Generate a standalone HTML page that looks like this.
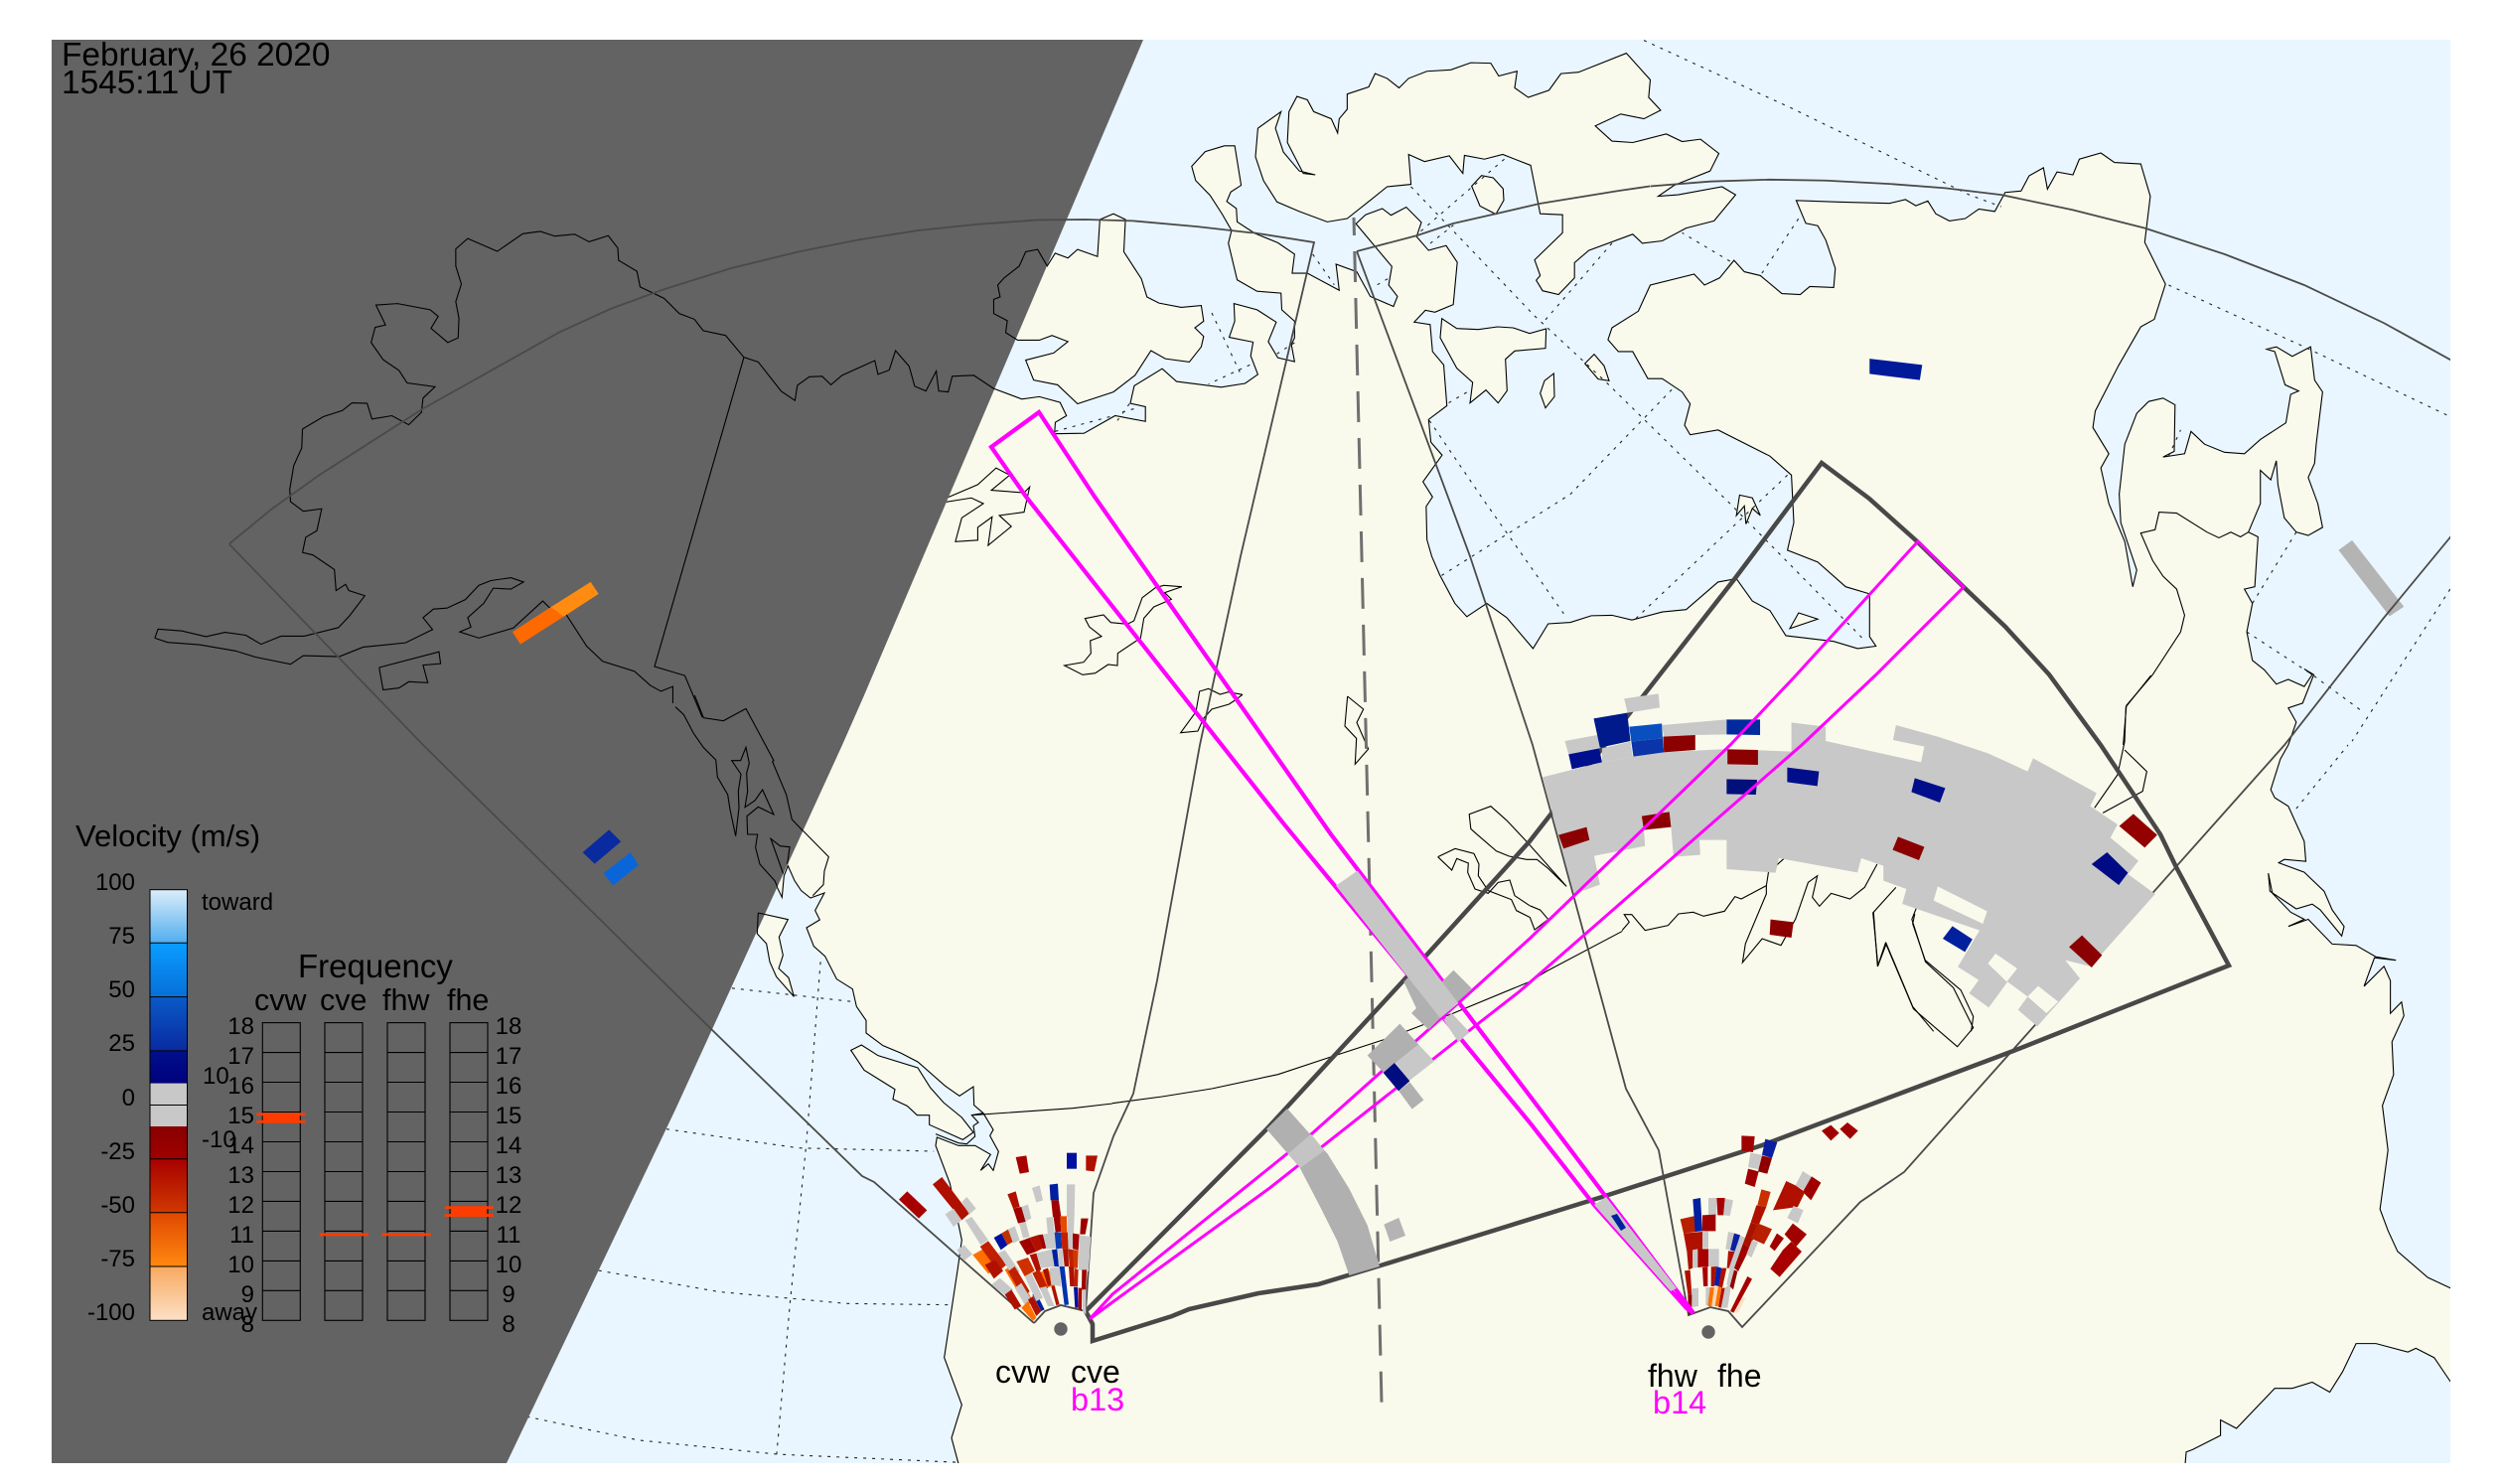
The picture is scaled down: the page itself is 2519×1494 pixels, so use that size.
<!DOCTYPE html>
<html><head><meta charset="utf-8"><title>SuperDARN velocity map</title>
<style>
html,body{margin:0;padding:0;background:#fff}
svg{display:block}
polygon,polyline,path,line{vector-effect:non-scaling-stroke}
.c polygon,.c polyline{stroke:#000;stroke-width:1.1;stroke-linejoin:miter}
.c polyline{fill:none}
.oc{fill:#e9f6ff}
.ld{fill:#f9faeb}
.g polyline{fill:none;stroke:#222;stroke-width:1.1;stroke-dasharray:3 6}
.t{font-family:"Liberation Sans",sans-serif;fill:#000}
.tk{font-size:24px}
.fq{font-size:24px}
.e{text-anchor:end}
.m{text-anchor:middle}
</style></head><body>
<svg width="2519" height="1494" viewBox="0 0 2519 1494" xmlns="http://www.w3.org/2000/svg">
<defs>
<clipPath id="plot"><rect x="52" y="40" width="2415" height="1433"/></clipPath>
<clipPath id="night"><polygon points="52,40 1151,40 870,700 848,750 680,1117 510,1473 52,1473"/></clipPath>
<linearGradient id="cb" x1="0" y1="0" x2="0" y2="1">
<stop offset="0" stop-color="#dcedfa"/><stop offset=".124" stop-color="#50aeee"/>
<stop offset=".125" stop-color="#0a9cff"/><stop offset=".249" stop-color="#0670d8"/>
<stop offset=".25" stop-color="#0a5ac8"/><stop offset=".374" stop-color="#0a2aa0"/>
<stop offset=".375" stop-color="#00108c"/><stop offset=".449" stop-color="#00007c"/>
<stop offset=".45" stop-color="#c8c8c8"/><stop offset=".549" stop-color="#c8c8c8"/>
<stop offset=".55" stop-color="#880000"/><stop offset=".624" stop-color="#a00000"/>
<stop offset=".625" stop-color="#a80000"/><stop offset=".749" stop-color="#d03800"/>
<stop offset=".75" stop-color="#e04800"/><stop offset=".874" stop-color="#ff8810"/>
<stop offset=".875" stop-color="#f8a860"/><stop offset="1" stop-color="#fde0c6"/>
</linearGradient>
</defs>
<rect width="2519" height="1494" fill="#fff"/>
<g clip-path="url(#plot)">
<rect x="52" y="40" width="2415" height="1433" fill="#f9faeb"/>
<!-- oceans and land -->
<g class="c">
<g transform="translate(1260,0) scale(0.80295,0.4783)">
<polygon class="oc" points="-348,790 -323,818 -288,840 -266,835 -240,847 -232,875 -246,889 -247,913 -210,912 -171,875 -133,887 -133,856 -152,849 -147,812 -112,776 -94,803 -38,815 -8,807 8,788 -1,749 2,720 -28,710 -21,676 -22,639 7,652 31,678 21,719 33,753 54,761 50,725 54,711 54,676 38,652 37,617 7,613 -18,589 -29,512 -25,485 -37,450 -52,411 -70,380 -75,350 -58,319 -34,307 -21,307 -13,390 -26,404 -31,424 -19,439 -18,467 4,491 33,511 54,535 51,575 70,575 110,611 106,556 132,572 149,624 178,645 183,624 172,600 176,561 131,471 143,452 164,439 175,453 194,436 213,468 207,498 222,527 244,517 258,552 253,641 230,657 218,653 204,678 224,683 227,740 241,768 245,854 222,883 225,931 239,958 215,1014 227,1046 219,1066 220,1136 226,1171 236,1210 255,1270 270,1298 295,1270 320,1300 353,1365 372,1313 400,1310 426,1296 452,1295 477,1305 515,1288 545,1283 585,1225 608,1218 628,1265 650,1285 670,1338 730,1350 760,1365 783,1360 775,1340 775,1250 745,1235 710,1183 672,1158 680,1100 677,1000 650,960 585,905 550,915 543,895 550,850 540,825 515,797 497,797 478,740 460,740 447,715 452,690 485,655 500,600 555,577 568,600 587,585 605,548 618,572 638,580 665,618 688,620 700,603 730,605 732,565 720,505 710,475 695,470 683,422 735,425 800,428 820,420 833,433 848,423 858,450 875,465 895,460 912,440 932,445 945,405 965,402 975,370 993,353 998,398 1010,362 1030,368 1038,335 1065,322 1082,342 1115,345 1127,413 1120,510 1146,598 1132,672 1115,688 1087,770 1058,865 1055,900 1075,955 1065,985 1075,1060 1095,1140 1105,1235 1110,1200 1090,1100 1088,1040 1095,935 1110,870 1125,845 1143,838 1158,852 1157,950 1143,962 1170,955 1178,908 1195,935 1220,952 1245,955 1265,925 1297,890 1303,830 1313,823 1296,810 1283,740 1273,735 1285,730 1305,750 1328,730 1333,800 1343,825 1335,935 1333,975 1325,1005 1337,1060 1343,1110 1325,1127 1310,1120 1295,1090 1287,1020 1285,970 1278,1010 1265,990 1265,1060 1250,1120 1262,1130 1258,1235 1245,1240 1255,1270 1248,1330 1255,1390 1270,1410 1285,1440 1300,1430 1320,1445 1330,1420 1320,1408 1332,1420 1318,1480 1300,1490 1310,1520 1300,1568 1290,1598 1278,1662 1283,1679 1300,1697 1320,1771 1322,1813 1295,1809 1288,1816 1320,1836 1345,1876 1355,1915 1370,1950 1367,1970 1340,1915 1330,1903 1310,1913 1277,1876 1275,1838 1280,1880 1303,1920 1320,1935 1300,1950 1325,1935 1355,1987 1385,1990 1410,2014 1435,2021 1408,2016 1395,2076 1420,2034 1428,2064 1428,2133 1442,2109 1445,2138 1430,2193 1432,2262 1418,2327 1425,2421 1415,2545 1425,2590 1437,2634 1475,2689 1503,2711 1560,2760 1560,-60 -348,-60"/>
<polygon class="ld" points="37,235 8,270 5,330 15,380 32,425 60,445 95,467 120,460 150,420 170,393 200,388 197,325 217,340 248,328 265,365 267,327 292,335 315,325 350,348 362,450 390,452 390,490 355,547 362,580 357,590 365,612 385,620 405,585 405,553 423,527 478,493 490,512 515,507 545,480 580,465 607,410 590,393 535,410 510,413 530,390 575,360 586,323 563,293 540,298 520,282 478,300 452,297 431,265 463,240 492,250 513,232 498,205 500,168 470,112 410,152 388,155 373,190 347,205 330,185 333,150 310,160 300,133 275,132 250,147 220,150 197,165 185,185 170,165 155,155 147,183 120,198 120,230 110,250 108,280 100,250 78,235 70,210 57,203 47,235 45,300 65,365 80,368 60,360 40,320 30,270"/>
<polygon class="ld" points="612,1042 628,1048 638,1085 628,1070 620,1103 618,1065 608,1085"/>
<polygon class="ld" points="686,1290 710,1303 675,1323"/>
</g>
<g transform="translate(1130,130) scale(.33333)">
<polygon class="ld" points="1085,140 1055,172 1080,232 1128,257 1152,215 1150,180 1120,147"/>
<polygon class="ld" points="965,572 1010,602 1075,605 1133,597 1180,600 1230,617 1280,603 1278,662 1185,670 1157,695 1162,790 1135,827 1098,788 1050,827 1058,765 1010,722 960,630"/>
<polygon class="ld" points="1425,680 1397,708 1437,755 1470,760 1455,715"/>
<polygon class="ld" points="1303,738 1275,760 1262,798 1278,842 1305,808"/>
</g>
<polygon class="ld" transform="scale(0.8036,0.4783)" points="1312,560 1300,525 1285,530 1277,560 1258,585 1250,600 1253,625 1245,630 1245,660 1262,675 1260,700 1275,716 1302,716 1318,706 1338,719 1320,743 1285,758 1295,800 1325,810 1350,850 1395,825 1422,790 1442,738 1460,755 1490,762 1505,730 1508,708 1497,690 1508,676 1505,643 1480,647 1452,638 1437,625 1430,587 1408,530 1410,462 1395,450 1378,462 1375,540 1350,525 1338,543 1322,533"/>
<!-- Gulf -->
<polygon class="oc" transform="translate(1260,750) scale(0.80295,0.4745)" points="1170,1540 1172,1500 1180,1495 1215,1465 1215,1432 1235,1450 1283,1365 1305,1365 1330,1352 1352,1373 1368,1330 1385,1270 1410,1270 1450,1288 1460,1280 1483,1300 1503,1350 1560,1440 1560,1600 1170,1600"/>
<!-- Pacific -->
<g transform="translate(680,700) scale(.33333)">
<polygon class="oc" points="322,610 328,545 340,515 360,560 380,590 408,612 450,597 422,650 436,678 396,702 418,758 452,788 487,857 535,887 547,940 576,982 576,1020 627,1058 680,1080 732,1107 815,1180 858,1210 900,1182 902,1238 930,1262 960,1312 950,1330 976,1378 960,1435 945,1415 922,1435 952,1387 905,1360 855,1360 790,1335 786,1360 829,1474 865,1645 853,1730 812,2000 865,2143 834,2243 860,2340 -1000,2340 -1000,600 300,565"/>
<polygon class="ld" points="250,657 340,677 313,730 325,785 312,825 342,853 358,910 305,850 285,805 275,750 247,720"/>
<polygon class="ld" points="530,1072 562,1056 612,1088 732,1125 770,1185 810,1230 865,1275 900,1320 868,1342 767,1297 767,1268 730,1268 700,1240 657,1220 663,1190 570,1132"/>
<polyline points="786,1325 855,1352 880,1355 905,1332 900,1300 915,1290 895,1268 930,1262"/>
<polyline points="352,375 463,488 450,530 447,572 415,605"/>
<polyline points="895,1268 1200,1247 1320,1233"/>
</g>
<!-- inland lines -->
<polyline transform="scale(0.8036,0.4783)" points="1165,1062 1190,1045 1225,1020 1248,985 1265,1000 1242,1032 1283,1037 1290,1025 1283,1078 1252,1085 1267,1108 1238,1148 1243,1088 1225,1110 1225,1137 1197,1140 1205,1090 1232,1060 1217,1048 1165,1062"/>
<g transform="translate(950,500) scale(.33333)">
<polyline points="720,272 665,268 640,275 600,305 575,375 555,385 505,380 483,357 427,368 440,393 477,422 443,435 445,473 423,500 365,510 420,538 458,533 497,507 525,510 526,473 595,427 605,367 635,333 688,310 668,290 720,272"/>
<polyline points="903,598 860,590 835,597 800,580 773,588 762,650 716,713 768,708 785,670 810,642 862,627 880,615 903,598"/>
<polyline points="1220,603 1268,642 1248,682 1283,762 1243,808 1247,730 1212,693 1220,603"/>
</g>
<g transform="translate(1120,840) scale(.33333)">
<polyline points="983,68 1035,43 1092,58 1107,90 1105,125 1135,170 1205,197 1220,230 1260,250"/>
<polyline points="983,68 1025,108 1040,73 1075,87 1073,115 1095,165 1135,178 1165,145 1200,138 1215,185 1260,215"/>
<polyline points="0,812 150,792 300,768 500,725 660,672 820,620 900,590 1030,540 1260,445"/>
</g>
<g transform="translate(1260,750) scale(0.80295,0.4745)">
<polyline points="395,300 345,205 320,160 300,130 273,147 275,178 283,190 307,225 323,236 345,243 358,243 372,262 395,300"/>
<polyline points="349,365 355,392 372,370 362,350 349,341"/>
<polyline points="349,502 370,480 465,395"/>
<polyline points="780,355 785,470 795,420 830,560 885,640 905,600 880,515 845,460 828,370 835,340"/>
</g>
<polyline transform="translate(1260,0) scale(0.80295,0.4783)" points="1250,1120 1240,1130 1228,1120 1213,1132 1198,1120 1160,1080 1138,1078 1133,1115 1115,1122 1130,1180 1143,1213 1160,1240 1170,1295 1165,1330 1130,1420 1097,1485 1093,1568"/>
<g transform="translate(1530,680) scale(0.42092,0.33333)">
<polyline points="1510,0 1450,95 1447,200 1430,300 1375,400"/>
<polyline points="1447,225 1500,290 1490,350 1395,415"/>
<polyline points="245,770 262,745 250,722 268,722 300,770 355,755 380,720 415,715 440,727 490,712 515,668 530,675 590,635 595,595 635,550"/>
<polyline points="590,635 590,660 540,810 533,867 580,795 625,815 660,735 690,625 712,605 700,670 717,697 745,658 790,675 825,640 855,570"/>
<polyline points="900,640 845,717 857,877 877,810 940,1000 990,1075"/>
<polyline points="945,720 940,750 970,860 1055,950 1085,1030 1080,1075"/>
<polyline points="1110,700 1115,720"/>
<polyline points="1295,850 1330,830 1305,872 1335,850"/>
</g>
</g>
<!-- dotted grid -->
<g class="g">
<g transform="translate(1260,0) scale(0.80295,0.4783)">
<polyline points="492,85 680,230 900,410 940,435"/>
<polyline points="1150,600 1320,730 1503,877"/>
<polyline points="200,393 355,665 445,805 600,1060 770,1350"/>
<polyline points="317,335 210,490"/>
<polyline points="640,575 690,450"/>
<polyline points="600,550 540,490"/>
<polyline points="452,512 365,680"/>
<polyline points="527,820 400,1040 235,1215"/>
<polyline points="223,885 290,1050 395,1300"/>
<polyline points="672,1000 480,1305"/>
<polyline points="1310,1120 1255,1270"/>
<polyline points="1248,1330 1330,1420 1395,1500"/>
<polyline points="1503,1240 1380,1560"/>
<polyline points="1150,960 1165,905"/>
</g>
<g transform="translate(1130,130) scale(.33333)">
<polyline points="270,555 360,745"/>
<polyline points="385,712 260,770"/>
<polyline points="575,378 640,470"/>
<polyline points="0,855 50,840"/>
<polyline points="1040,795 980,830"/>
<polyline points="770,470 805,450"/>
<polyline points="930,345 1000,290"/>
<polyline points="520,645 465,680"/>
</g>
<g transform="scale(0.8036,0.4783)">
<polyline points="1322,908 1395,875"/>
<polyline points="1415,850 1400,885"/>
</g>
<polyline transform="translate(1260,750) scale(0.80295,0.4745)" points="1310,135 1375,0"/>
<g transform="translate(0,750) scale(0.8036,0.4745)">
<polyline points="917,516 1070,545"/>
<polyline points="835,815 1000,855 1170,862"/>
<polyline points="750,1115 900,1160 1060,1185 1195,1188"/>
<polyline points="660,1425 800,1475 975,1505 1200,1522"/>
<polyline points="1028,460 1010,850 990,1180 973,1505"/>
</g>
</g>
<!-- night -->
<polygon points="52,40 1151,40 870,700 848,750 680,1117 510,1473 52,1473" fill="#636363"/>
<g clip-path="url(#night)"><g class="c">
<g transform="scale(0.8036,0.4783)">
<polyline points="194,1343 198,1324 228,1328 258,1340 282,1331 308,1337 327,1356 352,1339 381,1339 424,1321 438,1296 457,1254 437,1243 433,1230 421,1243 419,1199 392,1168 379,1163 383,1131 397,1117 403,1071 380,1076 364,1056 363,1030 368,980 378,943 379,903 405,877 429,864 441,848 460,849 466,882 491,875 512,894 528,868 530,838 545,814 510,806 500,780 480,757 465,721 470,689 483,684 471,642 498,639 539,652 549,666 540,691 561,721 574,711 575,670 571,635 578,598 571,560 571,524 586,502 623,529 655,492 677,487 695,497 720,493 738,509 762,496 774,522 775,548 798,571 802,604 832,628 851,660 870,672 881,696 909,706 932,752 950,762 979,824 996,843 999,811 1014,793 1030,792 1041,810 1055,790 1096,759 1100,788 1114,779 1122,738 1139,771 1146,813 1160,823 1173,781 1176,823 1188,825 1193,792 1220,790 1245,818 1280,840 1302,835"/>
<polyline points="194,1343 210,1352 250,1357 295,1370 320,1383 364,1398 380,1380 425,1382 455,1362 508,1353 542,1325 530,1300 543,1282 560,1280 583,1262 600,1232 615,1222 640,1216 656,1225 640,1240 618,1238 606,1270 586,1300 590,1320 576,1330 600,1343 643,1322 680,1265 692,1285 708,1290 735,1360 755,1392 795,1413 815,1443 828,1455 843,1445 843,1480"/>
<polyline points="932,752 820,1403 858,1422 880,1510"/>
<polyline points="475,1405 550,1372 552,1397 530,1400 536,1437 512,1435 500,1448 480,1452 475,1405"/>
<polyline points="1312,560 1300,525 1285,530 1277,560 1258,585 1250,600 1253,625 1245,630 1245,660 1262,675 1260,700 1275,716 1302,716 1318,706"/>
</g>
<g transform="translate(680,700) scale(.33333)">
<polyline points="0,35 25,58 55,115 85,158 122,195 127,247 158,300 165,345 182,425 192,340 190,290 198,238 170,197 197,197 213,157 223,205 215,235 218,290 210,338 240,318 263,285 297,360 250,337 216,365 218,420 248,420 242,460 255,510 300,560 322,610 328,545 288,433 316,455 345,458 338,510"/>
<polyline points="58,0 85,68 145,77 213,40 297,197 293,200 335,300 352,375 400,425"/>
<polyline points="250,657 340,677"/>
<polyline points="250,657 247,720 275,750"/>
</g>
</g></g>
<!-- far echoes -->
<polygon transform="scale(0.8036,0.4783)" fill="#ff6a00" points="642,1330 690,1278 706,1298 652,1356"/>
<polygon transform="scale(0.8036,0.4783)" fill="#ff8c10" points="690,1278 740,1225 750,1250 706,1298"/>
<g transform="translate(0,750) scale(0.8036,0.4745)">
<polygon fill="#0a2aa0" points="730,228 763,180 778,205 745,252"/>
<polygon fill="#0a66d8" points="756,272 790,228 800,255 768,298"/>
</g>
<g transform="translate(1260,0) scale(0.80295,0.4783)">
<polygon fill="#001a99" points="775,755 841,768 838,800 775,787"/>
<polygon fill="#b4b4b4" points="1363,1158 1380,1137 1445,1277 1427,1297"/>
</g>
<!-- dashed meridian -->
<line x1="1363" y1="219" x2="1391" y2="1413" stroke="#707070" stroke-width="3" stroke-dasharray="31 16" stroke-dashoffset="13" fill="none"/>
<!-- FOVs -->
<g fill="none" stroke="#4a4a4a" stroke-width="1.8">
<polyline points="1041,1332 880,1190 868,1184 715,1035 426,750 231,548"/>
<polyline transform="scale(0.8036,0.4783)" points="287,1145 340,1072 400,1000 465,930 530,860 610,785 700,700 765,650 830,610 915,565 1000,530 1075,505 1150,485 1225,472 1300,463 1360,462 1420,465 1500,477 1568,490"/>
<polyline points="1260,234 1323,244 1249,560 1208,750 1165,987 1141,1101 1121,1144 1101,1201 1093,1320 1068,1314 1052,1320 1041,1332"/>
<polyline points="1366,253 1427,237 1463,225 1507,215 1550,205 1630,192 1661,187.5"/>
<polyline transform="translate(1260,0) scale(0.80295,0.4783)" points="500,392 575,382 650,378 720,380 800,387 870,396 940,410 1030,442 1120,480 1220,535 1320,600 1420,680 1503,757 1560,810"/>
<polyline points="1366,253 1480,560 1543,750 1637,1096 1670,1158 1700,1324 1722,1316 1740,1320 1754,1336 1873,1210 1917,1180 2300,750 2400,622 2480,525"/>
</g>
<polyline fill="none" stroke="#484848" stroke-width="4.5" stroke-linejoin="miter" points="1093,1320 1100,1333 1100,1350 1180,1325 1197,1318 1267,1302 1327,1293 1390,1274 1613,1205 1774,1153 2027,1058 2244,972 2191,873 2175,840 2115,750 2063,679 2019,631 1977,591 1930,545 1882,502 1834,466 1747,582 1540,847 1415,985 1275,1137 1093,1320"/>
<!-- big fan -->
<g transform="translate(1530,680) scale(0.42092,0.33333)">
<polygon fill="#c8c8c8" points="55,307 197,262 270,245 345,232 495,222 650,230 650,142 732,155 732,198 960,262 968,215 893,195 900,150 1000,185 1120,235 1215,290 1228,250 1380,355 1365,395 1430,450 1413,490 1480,560 1455,600 1520,660 1238,1060 1192,1010 1215,970 1167,925 1122,1003 1075,960 1098,920 1048,880 1100,770 915,690 925,645 870,620 870,575 817,552 808,595 620,552 612,596 495,585 495,497 430,497 432,542 368,548 362,458 297,468 300,515 178,545 192,632 130,660"/>
<polygon fill="#f9faeb" points="1000,637 1118,712 1108,750 990,680"/>
<polygon fill="#f9faeb" points="1138,840 1190,885 1165,925 1120,870"/>
<polygon fill="#f9faeb" points="1240,938 1288,985 1260,1020 1215,970"/>
<polygon fill="#f9faeb" points="1305,860 1370,880 1340,915"/>
<polygon fill="#c8c8c8" points="250,70 332,55 335,97 258,113"/>
<polygon fill="#c8c8c8" points="340,150 495,133 495,178 420,180 345,185"/>
<polygon fill="#c8c8c8" points="108,198 185,180 195,218 117,238"/>
<polygon fill="#c8c8c8" points="197,220 265,200 270,245 197,262"/>
<polygon fill="#001a8c" points="177,130 257,113 265,198 192,218"/>
<polygon fill="#0a4fc0" points="262,155 340,145 342,190 267,200"/>
<polygon fill="#0a34a8" points="267,200 342,190 345,232 272,245"/>
<polygon fill="#000f8c" points="117,238 190,220 197,262 125,283"/>
<polygon fill="#8b0000" points="343,185 420,180 420,225 345,232"/>
<polygon fill="#002a9e" points="495,133 575,133 575,180 495,178"/>
<polygon fill="#8b0000" points="497,223 570,225 570,270 497,268"/>
<polygon fill="#00107a" points="495,313 568,315 565,360 495,358"/>
<polygon fill="#000e8c" points="640,278 716,290 712,334 640,322"/>
<polygon fill="#000e8c" points="945,310 1018,340 1005,384 937,352"/>
<polygon fill="#920000" points="1434,455 1468,418 1525,482 1495,520"/>
<polygon fill="#000a85" points="1368,570 1405,534 1455,596 1433,633"/>
<polygon fill="#00209e" points="1012,795 1035,757 1083,797 1065,835"/>
<polygon fill="#8b0000" points="1314,820 1345,785 1393,845 1368,882"/>
<polygon fill="#8b0000" points="892,527 905,487 968,518 955,558"/>
<polygon fill="#8b0000" points="292,425 358,412 362,458 297,466"/>
<polygon fill="#8b0000" points="93,482 160,458 167,497 105,523"/>
<polygon fill="#8b0000" points="600,737 655,745 650,792 598,783"/>
</g>
<!-- cvw/cve fan -->
<g transform="translate(880,1120) scale(.33333)">
<polygon fill="#a80000" points="75,263 100,238 160,295 135,320"/>
<polygon fill="#b01000" points="177,217 205,195 288,305 265,325"/>
<polygon fill="#c8c8c8" points="265,270 280,255 308,290 288,308"/>
<polygon fill="#c8c8c8" points="215,307 240,290 265,325 240,345"/>
<polygon fill="#c8c8c8" points="275,325 295,315 345,385 322,400"/>
<polygon fill="#c8c8c8" points="250,415 272,400 297,428 272,448"/>
<polygon fill="#ff7000" points="298,430 330,412 375,465 345,487"/>
<polygon fill="#c02000" points="320,405 345,388 400,460 375,480"/>
<polygon fill="#b01000" points="335,460 365,445 390,478 362,502"/>
<polygon fill="#ff6a00" points="395,475 420,460 480,570 460,585"/>
<polygon fill="#c8c8c8" points="375,425 395,415 440,480 420,495"/>
<polygon fill="#c8c8c8" points="355,520 380,500 420,535 400,555"/>
<polygon fill="#b01000" points="395,550 415,535 445,585 425,595"/>
<polygon fill="#c02000" points="405,480 425,465 470,540 450,560"/>
<polygon fill="#c8c8c8" points="425,530 445,515 475,565 455,580"/>
<polygon fill="#ff7000" points="445,590 465,570 490,620 480,630"/>
<polygon fill="#b01000" points="465,565 480,555 505,600 490,615"/>
<polygon fill="#0020a0" points="478,550 490,545 515,595 505,600"/>
<polygon fill="#0010a0" points="362,378 385,365 403,400 383,415"/>
<polygon fill="#c03000" points="385,365 405,353 420,390 403,400"/>
<polygon fill="#c8c8c8" points="405,353 425,343 440,385 420,395"/>
<polygon fill="#b01000" points="403,247 428,238 440,285 420,290"/>
<polygon fill="#a00000" points="420,290 445,285 458,330 435,335"/>
<polygon fill="#c8c8c8" points="445,285 465,278 475,320 458,328"/>
<polygon fill="#c8c8c8" points="438,335 458,330 470,375 450,380"/>
<polygon fill="#c8c8c8" points="477,228 500,220 510,265 490,272"/>
<polygon fill="#a80000" points="428,135 460,130 468,180 440,185"/>
<polygon fill="#0010a0" points="582,122 612,122 612,170 582,170"/>
<polygon fill="#b01000" points="640,130 675,130 665,178 640,175"/>
<polygon fill="#0020a0" points="530,218 555,215 558,265 533,265"/>
<polygon fill="#a00000" points="535,265 558,265 565,315 540,315"/>
<polygon fill="#c8c8c8" points="582,217 607,217 605,315 582,315"/>
<polygon fill="#a00000" points="542,315 562,313 565,360 548,362"/>
<polygon fill="#e84800" points="562,313 582,313 583,362 565,362"/>
<polygon fill="#c8c8c8" points="585,315 605,315 603,365 585,365"/>
<polygon fill="#c8c8c8" points="520,318 540,315 545,365 525,370"/>
<polygon fill="#a00000" points="625,320 647,320 638,368 622,368"/>
<polygon fill="#a00000" points="438,390 470,378 490,420 462,430"/>
<polygon fill="#b01000" points="470,378 495,370 510,410 490,420"/>
<polygon fill="#a00000" points="495,370 510,368 520,410 510,412"/>
<polygon fill="#c8c8c8" points="512,368 545,362 550,410 520,412"/>
<polygon fill="#0a3ab0" points="545,362 565,362 568,410 550,412"/>
<polygon fill="#c02000" points="565,362 585,362 587,412 568,412"/>
<polygon fill="#c8c8c8" points="585,365 600,365 600,412 588,412"/>
<polygon fill="#a00000" points="600,365 620,368 617,415 600,412"/>
<polygon fill="#c8c8c8" points="620,370 655,375 648,480 617,475"/>
<polygon fill="#c8c8c8" points="490,425 540,412 548,465 505,470"/>
<polygon fill="#0020a0" points="537,415 553,412 558,465 545,465"/>
<polygon fill="#c8c8c8" points="555,412 570,412 572,465 558,465"/>
<polygon fill="#a81000" points="570,412 587,412 588,465 575,465"/>
<polygon fill="#c02000" points="587,412 605,415 605,470 590,468"/>
<polygon fill="#d03800" points="600,415 617,415 615,470 603,470"/>
<polygon fill="#d03000" points="430,450 465,438 485,478 455,495"/>
<polygon fill="#b01000" points="470,430 490,425 505,475 490,480"/>
<polygon fill="#c8c8c8" points="455,495 475,485 510,560 490,570"/>
<polygon fill="#ff7000" points="490,490 525,470 550,520 520,530"/>
<polygon fill="#c02000" points="478,485 500,475 525,530 505,540"/>
<polygon fill="#a81000" points="510,475 525,470 535,520 525,525"/>
<polygon fill="#c8c8c8" points="500,530 520,525 545,585 525,585"/>
<polygon fill="#c8c8c8" points="530,470 560,465 565,525 535,520"/>
<polygon fill="#b01000" points="535,525 545,522 560,580 550,582"/>
<polygon fill="#0030b0" points="560,465 575,465 588,580 575,582"/>
<polygon fill="#b01000" points="588,465 603,468 605,525 592,525"/>
<polygon fill="#c02000" points="605,470 617,475 615,525 603,525"/>
<polygon fill="#0010a0" points="603,527 615,527 617,590 607,590"/>
<polygon fill="#a80000" points="617,530 628,530 627,600 617,592"/>
<polygon fill="#a00000" points="628,475 642,475 640,535 627,535"/>
<polygon fill="#c8c8c8" points="630,535 640,535 640,610 630,600"/>
</g>
<!-- fhw/fhe fan -->
<g transform="translate(1640,1120) scale(.33333)">
<polygon fill="#b82000" points="155,322 200,312 205,360 165,365"/>
<polygon fill="#0020a0" points="193,262 216,258 222,358 200,360"/>
<polygon fill="#c8c8c8" points="240,258 265,258 265,310 240,310"/>
<polygon fill="#a80000" points="265,258 290,258 288,310 268,310"/>
<polygon fill="#c8c8c8" points="290,260 315,265 305,312 285,310"/>
<polygon fill="#a00000" points="222,310 262,308 262,358 222,358"/>
<polygon fill="#b01000" points="165,365 222,360 222,412 175,420"/>
<polygon fill="#c8c8c8" points="222,360 240,358 240,410 222,410"/>
<polygon fill="#b01000" points="175,420 192,415 192,470 180,475"/>
<polygon fill="#c8c8c8" points="192,415 208,412 208,468 192,470"/>
<polygon fill="#a80000" points="208,412 240,412 240,465 208,468"/>
<polygon fill="#c8c8c8" points="240,412 272,412 272,465 240,465"/>
<polygon fill="#b01000" points="168,478 185,476 190,550 178,550"/>
<polygon fill="#a80000" points="222,468 238,465 238,525 225,525"/>
<polygon fill="#a81000" points="248,466 265,465 258,525 248,525"/>
<polygon fill="#0020b0" points="265,465 280,470 272,525 258,522"/>
<polygon fill="#b01000" points="280,470 295,470 282,530 270,525"/>
<polygon fill="#c8c8c8" points="188,532 210,530 210,585 192,588"/>
<polygon fill="#c8c8c8" points="232,528 245,528 240,582 232,582"/>
<polygon fill="#ff7000" points="245,528 258,528 250,585 238,585"/>
<polygon fill="#ffd8b0" points="258,525 270,525 262,585 250,585"/>
<polygon fill="#ff7000" points="270,525 280,530 270,585 260,585"/>
<polygon fill="#b01000" points="280,530 290,530 280,590 270,588"/>
<polygon fill="#c8c8c8" points="290,530 310,515 298,590 278,590"/>
<polygon fill="#900000" points="178,550 190,550 190,605 180,612"/>
<polygon fill="#c8c8c8" points="300,360 320,365 315,418 292,412"/>
<polygon fill="#0a1fa0" points="318,365 336,370 322,420 306,415"/>
<polygon fill="#b01000" points="300,418 320,420 310,470 296,470"/>
<polygon fill="#c8c8c8" points="336,372 356,380 318,475 302,470"/>
<polygon fill="#c8c8c8" points="305,470 325,478 310,525 295,520"/>
<polygon fill="#c83000" points="400,232 428,240 415,285 388,280"/>
<polygon fill="#b01000" points="385,280 415,285 392,340 368,332"/>
<polygon fill="#a81000" points="368,332 392,340 365,410 345,395"/>
<polygon fill="#a00000" points="345,395 365,410 330,480 318,470"/>
<polygon fill="#900000" points="318,475 328,480 315,535 305,525"/>
<polygon fill="#b82000" points="390,335 432,352 408,398 368,380"/>
<polygon fill="#c8c8c8" points="372,385 390,392 370,438 355,428"/>
<polygon fill="#ffe0c8" points="335,558 352,560 330,605 318,605"/>
<polygon fill="#a80000" points="358,495 372,503 316,605 306,600"/>
<polygon fill="#a00000" points="447,365 468,380 440,418 425,405"/>
<polygon fill="#a00000" points="495,335 537,368 505,405 470,368"/>
<polygon fill="#a80000" points="465,415 490,390 522,420 455,497 427,472"/>
<polygon fill="#c8c8c8" points="525,177 553,195 530,235 503,220"/>
<polygon fill="#a00000" points="552,193 580,212 550,265 525,240"/>
<polygon fill="#b01000" points="475,207 503,220 532,240 510,285 475,290 435,295"/>
<polygon fill="#c8c8c8" points="497,282 527,295 510,335 478,318"/>
<polygon fill="#a00000" points="340,70 380,72 375,120 340,115"/>
<polygon fill="#0a1fa0" points="412,80 448,90 432,138 402,128"/>
<polygon fill="#c8c8c8" points="367,122 402,128 392,172 360,165"/>
<polygon fill="#8f0000" points="402,130 432,138 418,185 390,178"/>
<polygon fill="#a00000" points="360,170 392,178 380,225 350,215"/>
<polygon fill="#a00000" points="582,55 610,38 635,62 610,85"/>
<polygon fill="#a00000" points="637,50 660,30 692,55 668,80"/>
</g>
<!-- beams -->
<g fill="none" stroke="#ff00ff" stroke-linejoin="miter">
<polyline stroke-width="4.2" points="1705,1322 1640,1235 1617,1205 1540,1103 1340,840 1102,500 1046,415 998,450 1033,500 1293,830 1540,1130 1605,1213 1698,1317 1705,1322"/>
<polyline stroke-width="3" points="1097,1328 1120,1303 1320,1142 1468,1010 1540,945 1742,750 1808,680 1931,545 1977,591 1888,680 1814,750 1530,998 1485,1033 1277,1197 1120,1311 1097,1328"/>
</g>
<!-- in-beam echoes over the beam outlines -->
<polygon fill="#c8c8c8" points="1617,1205 1605,1213 1682,1300 1688,1297"/>
<polygon fill="#0020a0" points="1622,1224 1628,1222 1637,1236 1632,1239"/>
<g transform="translate(1120,840) scale(.33333)">
<polygon fill="#b0b0b0" points="465,890 528,828 650,965 715,1070 770,1180 807,1305 715,1332 680,1230 630,1130 565,1005"/>
<polygon fill="#c4c4c4" points="530,965 600,905 640,955 568,1007"/>
<polygon fill="#b4b4b4" points="820,1178 865,1158 885,1212 838,1230"/>
<polygon fill="#b0b0b0" points="770,668 868,572 925,635 855,690 820,720"/>
<polygon fill="#c8c8c8" points="855,690 925,635 972,685 895,745"/>
<polygon fill="#000c80" points="818,720 852,690 898,745 864,775"/>
<polygon fill="#b0b0b0" points="865,775 898,748 940,802 905,830"/>
<polygon fill="#b0b0b0" points="903,540 1030,410 1087,467 1040,508 990,555 955,590"/>
<polygon fill="#b0b0b0" points="880,445 895,430 960,510 920,530"/>
<polygon fill="#c6c6c6" points="675,155 740,110 1045,510 990,555"/>
<polygon fill="#c6c6c6" points="1000,560 1025,540 1078,597 1045,628"/>
</g>
<!-- site dots -->
<circle cx="1068" cy="1338" r="6.7" fill="#636363"/>
<circle cx="1720" cy="1341" r="6.7" fill="#636363"/>
</g>
<!-- header text -->
<text class="t" x="62" y="66" font-size="33.4">February, 26 2020</text>
<text class="t" x="62" y="94" font-size="33.4">1545:11 UT</text>
<!-- site labels -->
<text class="t" x="1002" y="1392" font-size="32">cvw</text>
<text class="t" x="1078" y="1392" font-size="32">cve</text>
<text class="t" x="1078" y="1420" font-size="32.5" style="fill:#ff00ff">b13</text>
<text class="t" x="1659" y="1396" font-size="32">fhw</text>
<text class="t" x="1729" y="1396" font-size="32">fhe</text>
<text class="t" x="1664" y="1423" font-size="32.5" style="fill:#ff00ff">b14</text>
<!-- velocity colour bar -->
<text class="t" x="76" y="852" font-size="31">Velocity (m/s)</text>
<rect x="151" y="895.7" width="37.5" height="433.6" fill="url(#cb)" stroke="#000" stroke-width="1"/>
<g stroke="#000" stroke-width="1">
<line x1="151" x2="188.5" y1="949.3" y2="949.3"/><line x1="151" x2="188.5" y1="1003.6" y2="1003.6"/><line x1="151" x2="188.5" y1="1057.9" y2="1057.9"/><line x1="151" x2="188.5" y1="1112.5" y2="1112.5"/><line x1="151" x2="188.5" y1="1166.8" y2="1166.8"/><line x1="151" x2="188.5" y1="1220.7" y2="1220.7"/><line x1="151" x2="188.5" y1="1275" y2="1275"/>
</g>
<g class="t tk e">
<text x="136" y="896">100</text><text x="136" y="950">75</text><text x="136" y="1004">50</text><text x="136" y="1058">25</text><text x="136" y="1113">0</text><text x="136" y="1167">-25</text><text x="136" y="1221">-50</text><text x="136" y="1275">-75</text><text x="136" y="1329">-100</text>
</g>
<text class="t tk" x="203" y="916">toward</text>
<text class="t tk" x="203" y="1329">away</text>
<text class="t tk" x="204" y="1091">10</text>
<text class="t tk" x="203" y="1155">-10</text>
<!-- frequency -->
<text class="t" x="300" y="984" font-size="33">Frequency</text>
<text class="t" x="256" y="1017" font-size="30.5">cvw</text>
<text class="t" x="322" y="1017" font-size="30.5">cve</text>
<text class="t" x="385" y="1017" font-size="30.5">fhw</text>
<text class="t" x="450" y="1017" font-size="30.5">fhe</text>
<g fill="none" stroke="#000" stroke-width="1.1">
<rect x="264.3" y="1029.6" width="38" height="299.7"/><rect x="327" y="1029.6" width="38" height="299.7"/><rect x="390" y="1029.6" width="38" height="299.7"/><rect x="453" y="1029.6" width="38" height="299.7"/>
<path d="M264 1059.6H302M327 1059.6H365M390 1059.6H428M453 1059.6H491M264 1089.5H302M327 1089.5H365M390 1089.5H428M453 1089.5H491M264 1119.5H302M327 1119.5H365M390 1119.5H428M453 1119.5H491M264 1149.5H302M327 1149.5H365M390 1149.5H428M453 1149.5H491M264 1179.5H302M327 1179.5H365M390 1179.5H428M453 1179.5H491M264 1209.4H302M327 1209.4H365M390 1209.4H428M453 1209.4H491M264 1239.4H302M327 1239.4H365M390 1239.4H428M453 1239.4H491M264 1269.4H302M327 1269.4H365M390 1269.4H428M453 1269.4H491M264 1299.3H302M327 1299.3H365M390 1299.3H428M453 1299.3H491"/>
</g>
<g fill="#ff3c00">
<rect x="258.3" y="1120.4" width="49.4" height="2.8"/><rect x="264.7" y="1121.4" width="37" height="9"/><rect x="258.3" y="1127.9" width="49.4" height="2.8"/>
<rect x="321.7" y="1241.4" width="49.3" height="2.9"/><rect x="384.3" y="1241.4" width="49.4" height="2.9"/>
<rect x="447.7" y="1214.3" width="49.3" height="2.8"/><rect x="454.3" y="1214.3" width="35.7" height="10.7"/><rect x="447.7" y="1222" width="49.3" height="3"/>
</g>
<g class="t fq e">
<text x="256" y="1041">18</text><text x="256" y="1071">17</text><text x="256" y="1101">16</text><text x="256" y="1131">15</text><text x="256" y="1161">14</text><text x="256" y="1191">13</text><text x="256" y="1221">12</text><text x="256" y="1251">11</text><text x="256" y="1281">10</text><text x="256" y="1311">9</text><text x="256" y="1341">8</text>
</g>
<g class="t fq m">
<text x="512" y="1041">18</text><text x="512" y="1071">17</text><text x="512" y="1101">16</text><text x="512" y="1131">15</text><text x="512" y="1161">14</text><text x="512" y="1191">13</text><text x="512" y="1221">12</text><text x="512" y="1251">11</text><text x="512" y="1281">10</text><text x="512" y="1311">9</text><text x="512" y="1341">8</text>
</g>
</svg>
</body></html>
